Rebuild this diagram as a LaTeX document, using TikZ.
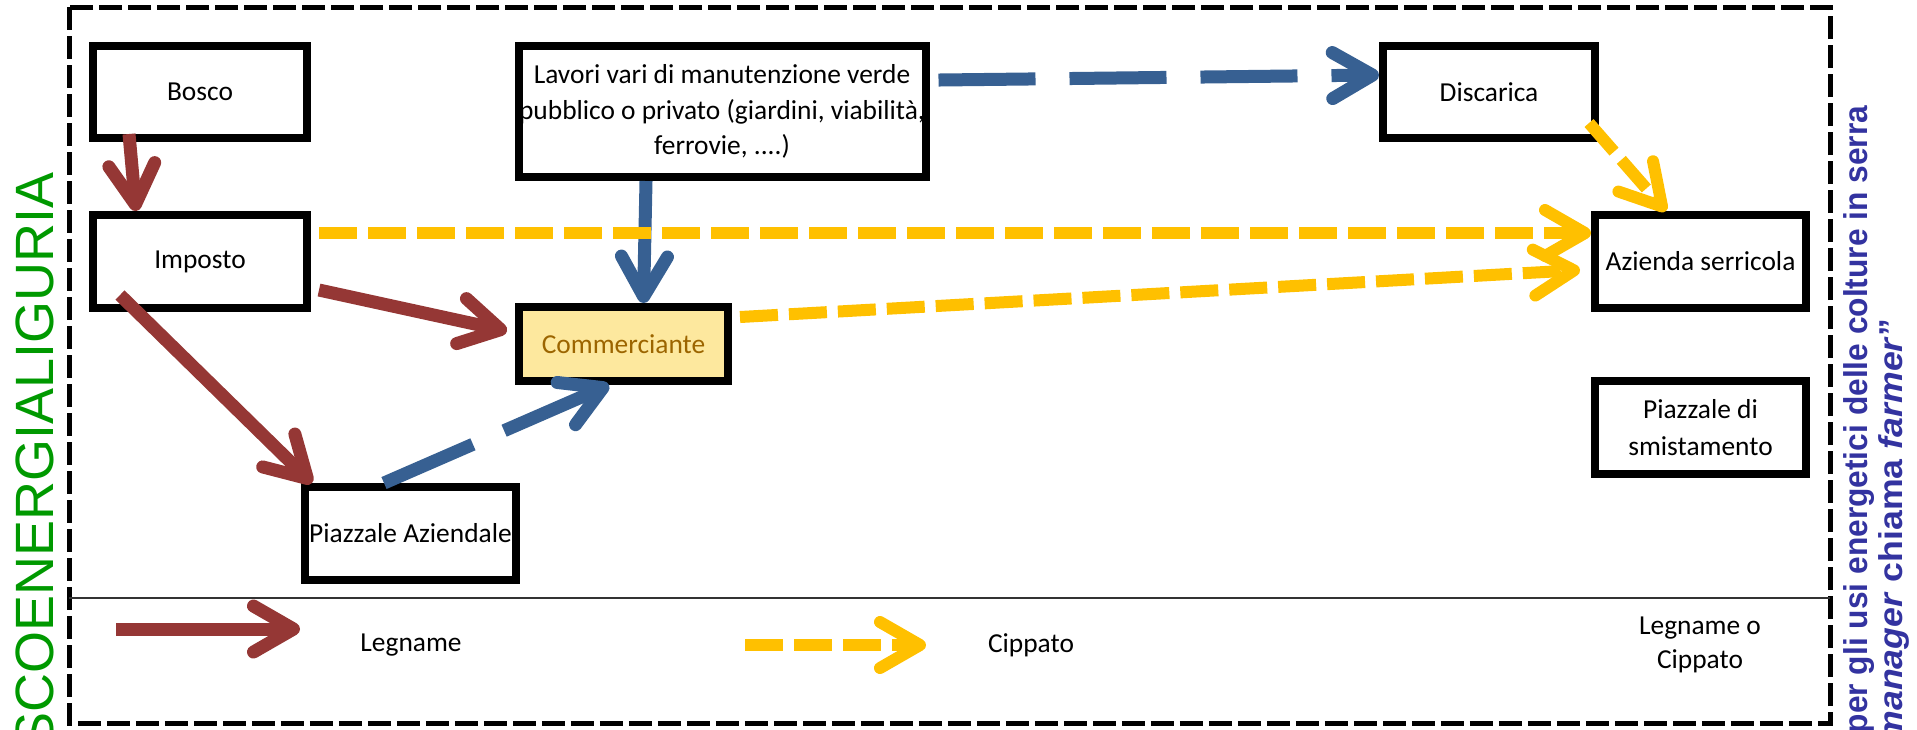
\documentclass[tikz,border=0pt]{standalone}
\usepackage{fontspec}
\setmainfont{Carlito}
\newfontfamily\arialfont{Liberation Sans}
\usetikzlibrary{arrows.meta}
\definecolor{colLegname}{RGB}{149,55,53}
\definecolor{colCippato}{RGB}{255,192,0}
\definecolor{colMisto}{RGB}{55,96,146}
\definecolor{commfill}{RGB}{253,232,158}
\definecolor{commtext}{RGB}{156,101,0}
\definecolor{notablu}{RGB}{51,51,160}
\definecolor{siglaverde}{RGB}{0,153,0}

\tikzset{
  box/.style={draw, line width=0.08cm, align=center, inner sep=0pt,
    font=\fontsize{7.8}{10.1}\selectfont},
  legname/.style={draw=colLegname, line width=0.13cm,
    -{Straight Barb[round, length=0.40cm, width=0.46cm]}},
  cippato/.style={draw=colCippato, line width=0.12cm, dash pattern=on 0.38cm off 0.11cm,
    -{Straight Barb[round, length=0.40cm, width=0.46cm]}},
  misto/.style={draw=colMisto, line width=0.13cm,
    -{Straight Barb[round, length=0.40cm, width=0.46cm]}},
  mistodash/.style={misto, dash pattern=on 0.97cm off 0.34cm},
  legtext/.style={font=\fontsize{7.8}{9.8}\selectfont, align=center, inner sep=0pt},
  nota/.style={rotate=90, anchor=base east, inner sep=0pt, text=notablu,
    font=\arialfont\bfseries\fontsize{9.4}{11}\selectfont}
}

\begin{document}
\begin{tikzpicture}
        \useasboundingbox (0,0) rectangle (19.17,-7.29);
        \clip (0,0) rectangle (19.17,-7.29);

        % Cornice tratteggiata e linea della legenda
        \draw[line width=0.05cm, dash pattern=on 0.23cm off 0.06cm] (0.69,-0.07) rectangle (18.30,-7.23);
        \draw[line width=0.02cm, black!80] (0.69,-5.98) -- (18.30,-5.98);

        % Nodi della filiera
        \node[box, minimum width=2.14cm, minimum height=0.92cm] (bosco) at (2.00,-0.92) {Bosco};
        \node[box, minimum width=2.14cm, minimum height=0.93cm] (imposto) at (2.00,-2.615) {Imposto};
        \node[box, minimum width=4.07cm, minimum height=1.31cm] (lavori) at (7.22,-1.115)
            {Lavori vari di manutenzione verde\\pubblico o privato (giardini, viabilità,\\ferrovie, ....)};
        \node[box, fill=commfill, text=commtext, minimum width=2.09cm, minimum height=0.74cm] (commerciante) at (6.235,-3.44) {Commerciante};
        \node[box, minimum width=2.11cm, minimum height=0.93cm] (piazzale) at (4.105,-5.335) {Piazzale Aziendale};
        \node[box, minimum width=2.12cm, minimum height=0.92cm] (discarica) at (14.89,-0.92) {Discarica};
        \node[box, minimum width=2.11cm, minimum height=0.93cm] (azienda) at (17.005,-2.615) {Azienda serricola};
        \node[box, minimum width=2.11cm, minimum height=0.93cm] (smistamento) at (17.005,-4.275) {Piazzale di\\[0.2mm]smistamento};

        % Flussi di legname
        \draw[legname] ([shift={(-0.71,0.08)}]bosco.south) -- ([xshift=-0.64cm]imposto.north);
        \draw[legname] ([shift={(0.08,-0.285)}]imposto.east) -- ([shift={(-0.08,0.13)}]commerciante.west);
        \draw[legname] ([shift={(0.31,0.17)}]imposto.south west) -- ([xshift=0.11cm]piazzale.north west);

        % Flussi misti
        \draw[misto] ([xshift=-0.76cm]lavori.south) -- ([xshift=0.2cm]commerciante.north);
        \draw[mistodash] ([shift={(0.09,0.315)}]lavori.east) -- ([yshift=0.17cm]discarica.west);
        \draw[mistodash] ([xshift=-0.265cm]piazzale.north) -- ([xshift=-0.145cm]commerciante.south);

        % Flussi di cippato
        \draw[cippato] ([shift={(0.08,0.285)}]imposto.east) -- ([yshift=0.285cm]azienda.west);
        \draw[cippato] ([shift={(0.08,0.27)}]commerciante.east) -- ([shift={(-0.11,-0.085)}]azienda.west);
        \draw[cippato] ([shift={(-0.1,0.19)}]discarica.south east) -- ([xshift=-0.345cm]azienda.north);

        % Legenda
        \coordinate (legnA) at (1.16,-6.29);
        \coordinate (legnB) at (3.00,-6.29);
        \draw[legname] (legnA) -- (legnB);
        \node[legtext] (legnameTxt) at (4.11,-6.45) {Legname};
        \coordinate (cipA) at (7.45,-6.45);
        \coordinate (cipB) at (9.26,-6.45);
        \draw[cippato] (cipA) -- (cipB);
        \node[legtext] (cippatoTxt) at (10.31,-6.45) {Cippato};
        \node[legtext] (mistoTxt) at (17.00,-6.45) {Legname o\\Cippato};

        % Scritte laterali
        \node[rotate=90, anchor=base east, inner sep=0pt, text=siglaverde,
            font=\arialfont\fontsize{15.35}{18}\selectfont] (sigla) at (0.53,-1.72) {SCOENERGIALIGURIA};
        \node[nota, xscale=0.96] (nota1) at (18.67,-1.05) {per gli usi energetici delle colture in serra};
        \node[nota, xscale=1.08] (nota2) at (19.02,-3.18) {\textit{manager} chiama \textit{farmer}”};

\end{tikzpicture}
\end{document}
